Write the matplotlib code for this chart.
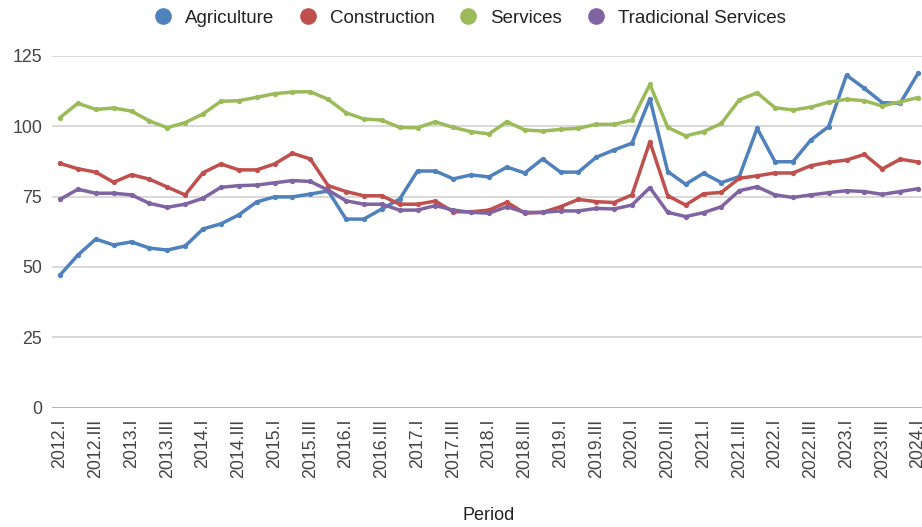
import matplotlib
matplotlib.use("Agg")
import matplotlib.pyplot as plt
from matplotlib.lines import Line2D

plt.rcParams['font.family'] = ['Liberation Sans', 'DejaVu Sans']

# Quarterly periods 2012.I .. 2024.I
years = list(range(2012, 2025))
quarters = ["I", "II", "III", "IV"]
periods = [f"{y}.{q}" for y in years for q in quarters][:49]

agriculture = [47.1, 54.2, 59.9, 57.8, 58.9, 56.7, 56.0, 57.4, 63.5, 65.3,
               68.5, 73.1, 74.9, 74.9, 75.9, 77.0, 67.0, 67.0, 70.6, 74.1,
               84.1, 84.1, 81.3, 82.7, 82.0, 85.5, 83.4, 88.4, 83.7, 83.7,
               89.0, 91.6, 94.0, 109.8, 83.9, 79.4, 83.3, 80.0, 82.1, 99.3,
               87.4, 87.4, 95.1, 99.9, 118.2, 113.5, 108.4, 108.2, 118.8]

construction = [86.8, 84.9, 83.7, 80.1, 82.8, 81.2, 78.4, 75.6, 83.5, 86.6,
                84.5, 84.5, 86.6, 90.4, 88.4, 78.9, 76.8, 75.3, 75.3, 72.3,
                72.3, 73.4, 69.6, 69.6, 70.2, 73.0, 69.1, 69.4, 71.4, 74.0,
                73.2, 72.9, 75.6, 94.5, 75.3, 72.0, 76.0, 76.5, 81.5, 82.4,
                83.4, 83.4, 86.0, 87.2, 88.0, 90.0, 84.8, 88.3, 87.3]

services = [103.1, 108.2, 106.0, 106.5, 105.4, 101.9, 99.5, 101.3, 104.4, 108.9,
            109.1, 110.3, 111.6, 112.2, 112.3, 109.6, 104.8, 102.6, 102.2, 99.6,
            99.5, 101.6, 99.6, 98.1, 97.3, 101.6, 98.7, 98.3, 98.9, 99.3,
            100.7, 100.7, 102.2, 114.9, 99.6, 96.6, 98.1, 101.0, 109.4, 111.9,
            106.6, 105.8, 106.8, 108.6, 109.6, 109.1, 107.2, 108.7, 110.2]

traditional = [74.0, 77.6, 76.2, 76.2, 75.6, 72.6, 71.2, 72.3, 74.4, 78.3,
               78.9, 79.1, 79.9, 80.7, 80.4, 77.3, 73.5, 72.3, 72.3, 70.2,
               70.2, 71.8, 70.2, 69.4, 69.1, 71.4, 69.4, 69.4, 69.9, 69.9,
               70.8, 70.6, 72.0, 78.2, 69.4, 67.9, 69.3, 71.4, 77.1, 78.5,
               75.6, 74.7, 75.6, 76.4, 77.1, 76.8, 75.8, 76.8, 77.8]

series_names = ["Agriculture", "Construction", "Services", "Tradicional Services"]
series_colors = ["#4F81BD", "#C0504D", "#9BBB59", "#8064A2"]
series_values = [agriculture, construction, services, traditional]

y_ticks = [0, 25, 50, 75, 100, 125]

fig = plt.figure(figsize=(9.22, 5.27), dpi=100)
ax = fig.add_axes([52 / 922, 1 - 407.5 / 527, 870 / 922, (407.5 - 56) / 527])

x = list(range(len(periods)))
for name, color, vals in zip(series_names, series_colors, series_values):
    ax.plot(x, vals, color=color, linewidth=2.5, marker='o', markersize=3.8,
            markeredgewidth=0, label=name, solid_joinstyle='round', zorder=3)

ax.set_xlim(-8 / 17.875, 48 + 4 / 17.875)
ax.set_ylim(0, 125)
ax.set_yticks(y_ticks)
ax.set_yticklabels([str(v) for v in y_ticks])
for v in y_ticks[1:]:
    ax.axhline(v, color="#d9d9d9", linewidth=1.4, zorder=1)
ax.axhline(0, color="#9a9a9a", linewidth=1.8, zorder=2)

tick_pos = x[::2]
ax.set_xticks(tick_pos)
ax.set_xticklabels([periods[i] for i in tick_pos], rotation=90, va='top', ha='center')

for s in ax.spines.values():
    s.set_visible(False)
ax.tick_params(axis='both', length=0, colors="#444444", labelsize=12.8)
ax.tick_params(axis='y', pad=7)
ax.tick_params(axis='x', pad=8)

handles = [Line2D([], [], linestyle='none', marker='o', markersize=12,
                  markerfacecolor=c, markeredgewidth=0) for c in series_colors]
fig.legend(handles, series_names, loc='center', bbox_to_anchor=(469.5 / 922, 1 - 18 / 527),
           ncol=4, frameon=False, fontsize=13.5, handlelength=1.0, handletextpad=0.67,
           columnspacing=1.3, labelcolor="#222222")

fig.text(489 / 922, 1 - 516 / 527, "Period", ha='center', va='center',
         fontsize=13, color="#222222")

fig.savefig("out.png", dpi=100, facecolor="white")
